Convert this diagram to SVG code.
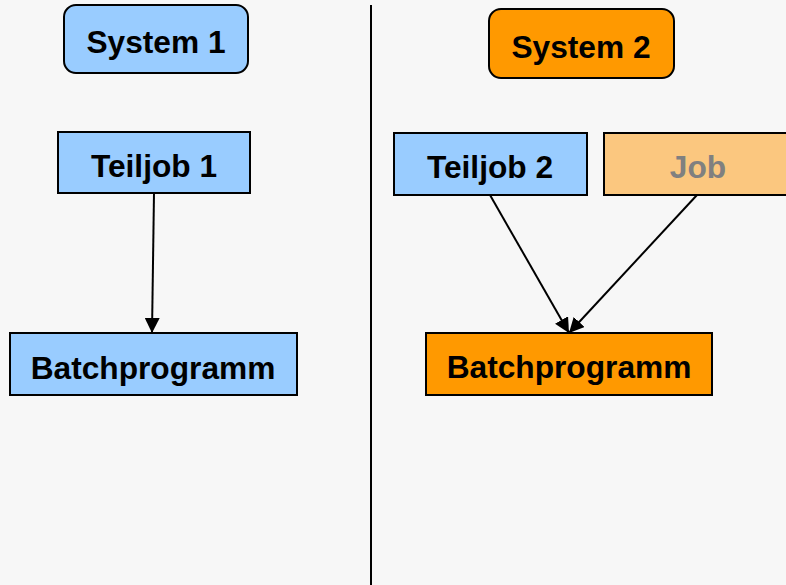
<svg xmlns="http://www.w3.org/2000/svg" width="786" height="585" viewBox="0 0 786 585">
<style>
.box{stroke:#000;stroke-width:2}
.blue{fill:#99ccff}
.orange{fill:#ff9900}
.lorange{fill:#fbc77f}
.t{font-family:"Liberation Sans",Arial,sans-serif;font-weight:bold;font-size:31.7px;text-anchor:middle;fill:#000}
.conn{stroke:#000;stroke-width:2;fill:none;marker-end:url(#ah)}
</style>
<defs>
<marker id="ah" viewBox="0 0 10 10" refX="10" refY="5" markerWidth="15" markerHeight="15" markerUnits="userSpaceOnUse" orient="auto"><path d="M0,0 L10,5 L0,10 z" fill="#000"/></marker>
</defs>
<rect width="786" height="585" fill="#f7f7f7"/>
<line x1="371" y1="5" x2="371" y2="585" stroke="#000" stroke-width="2"/>
<g id="system1"><rect class="box blue" x="64" y="5" width="184" height="68" rx="12"/><text class="t" x="156" y="53">System 1</text></g>
<g id="system2"><rect class="box orange" x="489" y="9" width="185" height="69" rx="12"/><text class="t" x="581" y="58">System 2</text></g>
<g id="teiljob1"><rect class="box blue" x="58" y="132" width="192" height="61"/><text class="t" x="154" y="177">Teiljob 1</text></g>
<g id="teiljob2"><rect class="box blue" x="394" y="133" width="193" height="62"/><text class="t" x="490" y="178">Teiljob 2</text></g>
<g id="job"><rect class="box lorange" x="604" y="133" width="190" height="62"/><text class="t" x="698" y="178" style="fill:#808080">Job</text></g>
<g id="batch1"><rect class="box blue" x="10" y="333" width="287" height="62"/><text class="t" x="153" y="379">Batchprogramm</text></g>
<g id="batch2"><rect class="box orange" x="426" y="333" width="286" height="62"/><text class="t" x="569" y="378">Batchprogramm</text></g>
<g id="connectors">
<path class="conn" d="M154,193 L152,333"/>
<path class="conn" d="M490,195 L569,333"/>
<path class="conn" d="M697,195 L569,333"/>
</g>
</svg>
